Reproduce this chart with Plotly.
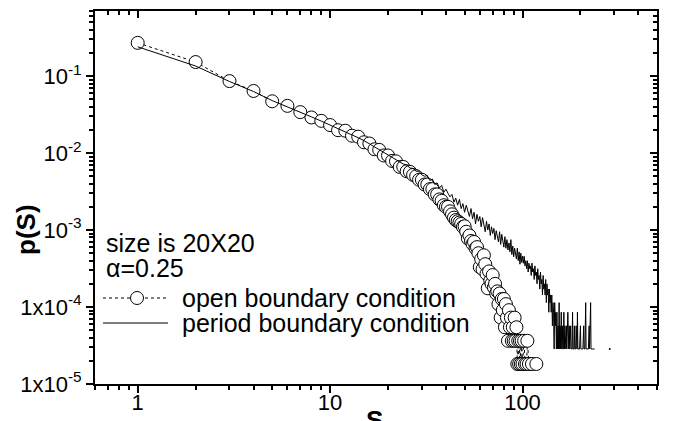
import math
import plotly.graph_objects as go

# ---------------- data ----------------
open_s = [1, 2, 3, 4, 5, 6, 7, 8, 9, 10, 11, 12, 13, 14, 15, 16, 17, 18, 19, 20,
          21, 22, 23, 24, 25, 26, 27, 28, 29, 30, 31, 32, 33, 34, 35, 36, 37, 38, 39, 40,
          41, 42, 43, 44, 45, 46, 47, 48, 49, 50, 51, 52, 53, 54, 55, 56, 57, 58, 59, 60,
          61, 62, 63, 64, 65, 66, 67, 68, 69, 70, 71, 72, 73, 74, 75, 76, 77, 78, 79, 80,
          81, 82, 83, 84, 85, 86, 87, 88, 89, 90, 91, 92, 93, 94, 95, 96, 97, 98, 99, 100,
          102, 103, 105, 106, 108, 112, 118]
open_p = [0.27, 0.152, 0.086, 0.064, 0.047, 0.041, 0.034, 0.029, 0.0262, 0.0231,
          0.0198, 0.0195, 0.0168, 0.0163, 0.0138, 0.0133, 0.0112, 0.0110, 0.0093, 0.0093,
          0.0079, 0.0078, 0.0066, 0.0066, 0.0058, 0.0057, 0.0052, 0.0050, 0.0045, 0.0045,
          0.0039, 0.0039, 0.0034, 0.0034, 0.0029, 0.0029, 0.0025, 0.0024, 0.0021, 0.0020,
          2.0e-3, 1.75e-3, 1.6e-3, 1.45e-3, 1.35e-3, 1.3e-3, 1.25e-3, 1.2e-3, 1.1e-3, 1.12e-3,
          9.5e-4, 7.8e-4, 8.5e-4, 7.2e-4, 6.6e-4, 7.0e-4, 5.8e-4, 6.0e-4, 5.0e-4, 3.3e-4,
          4.2e-4, 3.1e-4, 4.7e-4, 3.6e-4, 2.7e-4, 1.75e-4, 2.9e-4, 2.2e-4, 2.0e-4, 2.6e-4,
          1.8e-4, 2.0e-4, 1.5e-4, 1.6e-4, 1.09e-4, 1.5e-4, 7.28e-5, 1.27e-4, 9.1e-5, 1.27e-4,
          5.46e-5, 1.09e-4, 7.28e-5, 3.64e-5, 9.1e-5, 5.46e-5, 7.28e-5, 3.64e-5, 5.46e-5, 3.64e-5,
          7.28e-5, 3.64e-5, 5.46e-5, 1.82e-5, 3.64e-5, 1.82e-5, 3.64e-5, 1.82e-5, 3.64e-5, 1.82e-5,
          3.64e-5, 1.82e-5, 1.82e-5, 3.64e-5, 1.82e-5, 1.82e-5, 1.82e-5]

period_s = [1, 2, 3, 4, 5, 6, 7, 8, 9, 10, 11, 12, 13, 14, 15, 16, 17, 18, 19, 20,
            21, 22, 23, 24, 25, 26, 27, 28, 29, 30, 31, 32, 33, 34, 35, 36, 37, 38, 39, 40,
            41, 42, 43, 44, 45, 46, 47, 48, 49, 50, 51, 52, 53, 54, 55, 56, 57, 58, 59, 60,
            61, 62, 63, 64, 65, 66, 67, 68, 69, 70, 71, 72, 73, 74, 75, 76, 77, 78, 79, 80,
            81, 82, 83, 84, 85, 86, 87, 88, 89, 90, 91, 92, 93, 94, 95, 96, 97, 98, 99, 100,
            101, 102, 103, 104, 105, 106, 107, 108, 109, 110, 111, 112, 113, 114, 115, 116, 117, 118, 119, 120,
            121, 122, 123, 124, 125, 126, 127, 128, 129, 130, 131, 132, 133, 134, 135, 136, 137, 138, 139, 140,
            141, 142, 143, 144, 145, 146, 147, 148, 149, 150, 151, 152, 153, 154, 155, 156, 157, 158, 159, 160,
            161, 162, 163, 164, 165, 166, 167, 168, 169, 170, 172, 173, 174, 175, 176, 178, 179, 181, 182, 183,
            185, 186, 187, 189, 190, 192, 193, 194, 196, 198, 200, 201, 203, 206, 208, 209, 211, 213, 214, 217,
            220, 222, 223, 226, 227, 230, 233, 237]
period_p = [0.24, 0.135, 0.085, 0.063, 0.048, 0.040, 0.034, 0.0295, 0.026, 0.0232,
            0.0210, 0.0190, 0.0172, 0.0158, 0.0145, 0.0132, 0.0122, 0.0112, 0.0103, 0.0095,
            0.0089, 0.0083, 0.0078, 0.0072, 0.0070, 0.0064, 0.0063, 0.0058, 0.0058, 0.0052,
            0.0050, 0.0051, 0.0044, 0.0046, 0.0039, 0.0041, 0.0035, 0.0038, 0.0031, 0.0034,
            0.0030, 0.0027, 0.0029, 0.0023, 0.0026, 0.0021, 0.0025, 0.0019, 0.0022, 0.0017,
            0.0021, 0.0018, 0.0015, 0.0019, 0.0014, 0.0017, 0.0012, 0.0016, 0.0013, 0.0015,
            0.0011, 0.00145, 0.0012, 0.00095, 0.0013, 0.0010, 0.0012, 0.00085, 0.0011, 0.0009,
            0.00105, 0.00075, 0.00098, 0.0008, 0.0007, 0.00095, 0.00065, 0.00088, 0.0007, 0.0006,
            0.00082, 0.00058, 0.00075, 0.00055, 0.00068, 0.00052, 0.00075, 0.00048, 0.00062, 0.00045,
            0.00058, 0.0005, 0.00042, 0.00058, 0.0004, 0.00052, 0.00036, 0.0005, 0.00038, 0.00046,
            3.7e-4, 4.56e-4, 3.42e-4, 3.99e-4, 3.14e-4, 3.99e-4, 2.85e-4, 3.71e-4, 3.14e-4, 3.42e-4,
            2.57e-4, 3.71e-4, 2.85e-4, 3.14e-4, 2.28e-4, 3.42e-4, 2.57e-4, 2.85e-4, 2.0e-4, 3.14e-4,
            2.28e-4, 2.57e-4, 1.71e-4, 2.85e-4, 2.0e-4, 2.28e-4, 1.43e-4, 2.57e-4, 1.71e-4, 2.0e-4,
            1.43e-4, 2.28e-4, 1.14e-4, 2.0e-4, 1.43e-4, 1.71e-4, 8.55e-5, 1.71e-4, 1.14e-4, 1.43e-4,
            8.55e-5, 1.43e-4, 5.7e-5, 1.14e-4, 8.55e-5, 2.85e-5, 1.14e-4, 5.7e-5, 8.55e-5, 2.85e-5,
            8.55e-5, 2.85e-5, 5.7e-5, 2.85e-5, 1.14e-4, 2.85e-5, 5.7e-5, 2.85e-5, 8.55e-5, 2.85e-5,
            5.7e-5, 2.85e-5, 2.85e-5, 8.55e-5, 2.85e-5, 5.7e-5, 2.85e-5, 2.85e-5, 5.7e-5, 2.85e-5,
            8.55e-5, 2.85e-5, 2.85e-5, 5.7e-5, 2.85e-5, 5.7e-5, 2.85e-5, 2.85e-5, 8.55e-5, 2.85e-5,
            2.85e-5, 5.7e-5, 2.85e-5, 2.85e-5, 5.7e-5, 2.85e-5, 8.55e-5, 2.85e-5, 2.85e-5, 2.85e-5,
            5.7e-5, 2.85e-5, 2.85e-5, 2.85e-5, 5.7e-5, 2.85e-5, 2.85e-5, 1.14e-4, 2.85e-5, 2.85e-5,
            2.85e-5, 5.7e-5, 2.85e-5, 1.14e-4, 2.85e-5, 2.85e-5, 2.85e-5, 2.85e-5]
period_lone_s = [284]
period_lone_p = [2.85e-5]

x_tickvals = [1, 10, 100]
x_ticktext = ["1", "10", "100"]
x_minor = [0.6, 0.7, 0.8, 0.9, 2, 3, 4, 5, 6, 7, 8, 9, 20, 30, 40, 50, 60, 70, 80, 90,
           200, 300, 400, 500]
y_tickvals = [1e-1, 1e-2, 1e-3, 1e-4, 1e-5]
y_ticktext = ["10<sup>-1</sup>", "10<sup>-2</sup>", "10<sup>-3</sup>",
              "1x10<sup>-4</sup>", "1x10<sup>-5</sup>"]
y_minor = [2e-5, 3e-5, 4e-5, 5e-5, 6e-5, 7e-5, 8e-5, 9e-5,
           2e-4, 3e-4, 4e-4, 5e-4, 6e-4, 7e-4, 8e-4, 9e-4,
           2e-3, 3e-3, 4e-3, 5e-3, 6e-3, 7e-3, 8e-3, 9e-3,
           0.02, 0.03, 0.04, 0.05, 0.06, 0.07, 0.08, 0.09,
           0.2, 0.3, 0.4, 0.5, 0.6, 0.7]

x_range = [math.log10(0.6), math.log10(500)]
y_range = [-5, math.log10(0.7)]

FONT = "Liberation Sans, Arial, Helvetica, sans-serif"

fig = go.Figure()
fig.add_trace(go.Scatter(
    x=open_s, y=open_p, mode="lines+markers",
    line=dict(color="black", width=1, dash="dot"),
    marker=dict(symbol="circle", size=13, color="white",
                line=dict(color="black", width=1)),
    showlegend=False, hoverinfo="skip"))
fig.add_trace(go.Scatter(
    x=period_s, y=period_p, mode="lines",
    line=dict(color="black", width=1),
    showlegend=False, hoverinfo="skip"))
fig.add_trace(go.Scatter(
    x=period_lone_s, y=period_lone_p, mode="markers",
    marker=dict(color="black", size=2), showlegend=False, hoverinfo="skip"))
# empty traces so the extra tick axes are drawn
for k in (2, 3, 4):
    fig.add_trace(go.Scatter(x=[], y=[], xaxis="x%d" % k, yaxis="y%d" % k,
                             showlegend=False))

tickfont = dict(family=FONT, size=22, color="black")


def axis_def(kind, side, ticks, ticklen, tickwidth, vals, labels=None, overlay=True):
    d = dict(type="log", range=x_range if kind == "x" else y_range, side=side,
             showgrid=False, zeroline=False,
             showline=True, linecolor="black", linewidth=2, automargin=False,
             ticks=ticks, ticklen=ticklen, tickwidth=tickwidth, tickcolor="black",
             tickmode="array", tickvals=vals)
    if labels is None:
        d["showticklabels"] = False
    else:
        d["ticktext"] = labels
        d["tickfont"] = tickfont
        if kind == "x":
            d["ticklabelstandoff"] = -9
    if overlay:
        d["overlaying"] = kind
        d["anchor"] = "y" if kind == "x" else "x"
    return d


fig.update_layout(
    width=673, height=421, autosize=False,
    margin=dict(l=95, r=16, t=11, b=37),
    paper_bgcolor="white", plot_bgcolor="white",
    xaxis=axis_def("x", "bottom", "outside", 7, 2, x_tickvals, x_ticktext, overlay=False),
    xaxis2=axis_def("x", "top", "inside", 7, 2, x_tickvals),
    xaxis3=axis_def("x", "bottom", "outside", 4, 1.5, x_minor),
    xaxis4=axis_def("x", "top", "inside", 4, 1.5, x_minor),
    yaxis=axis_def("y", "left", "outside", 7, 2, y_tickvals, y_ticktext, overlay=False),
    yaxis2=axis_def("y", "right", "inside", 7, 2, y_tickvals),
    yaxis3=axis_def("y", "left", "outside", 4, 1.5, y_minor),
    yaxis4=axis_def("y", "right", "inside", 4, 1.5, y_minor),
)


def px_x(px):
    return (px - 95) / 562.0


def px_y(py):
    return (384 - py) / 373.0


legfont = dict(family=FONT, size=25, color="black")
annots = [
    dict(text="size is 20X20", x=px_x(104), y=px_y(243)),
    dict(text="α=0.25", x=px_x(104), y=px_y(268)),
    dict(text="open boundary condition", x=px_x(180), y=px_y(298)),
    dict(text="period boundary condition", x=px_x(180), y=px_y(323)),
]
for a in annots:
    fig.add_annotation(xref="paper", yref="paper", xanchor="left", yanchor="middle",
                       showarrow=False, font=legfont, **a)

fig.add_annotation(text="<b>S</b>", xref="paper", yref="paper",
                   x=px_x(374), y=px_y(403), xanchor="center", yanchor="top",
                   showarrow=False, font=dict(family=FONT, size=26, color="black"))
fig.add_annotation(text="<b>p(S)</b>", xref="paper", yref="paper",
                   x=px_x(26), y=px_y(230), xanchor="center", yanchor="middle",
                   textangle=-90, showarrow=False,
                   font=dict(family=FONT, size=26, color="black"))

# legend samples
fig.add_shape(type="line", xref="paper", yref="paper",
              x0=px_x(103), x1=px_x(168), y0=px_y(298), y1=px_y(298),
              line=dict(color="black", width=1, dash="dot"))
fig.add_shape(type="circle", xref="paper", yref="paper",
              xsizemode="pixel", ysizemode="pixel",
              xanchor=px_x(137), yanchor=px_y(298), x0=-6.5, x1=6.5, y0=-6.5, y1=6.5,
              fillcolor="white", line=dict(color="black", width=1))
fig.add_shape(type="line", xref="paper", yref="paper",
              x0=px_x(103), x1=px_x(168), y0=px_y(323), y1=px_y(323),
              line=dict(color="black", width=1))

fig.write_html("out.html", config={"displayModeBar": False},
               post_script="document.body.style.margin='0';document.body.style.padding='0';")
